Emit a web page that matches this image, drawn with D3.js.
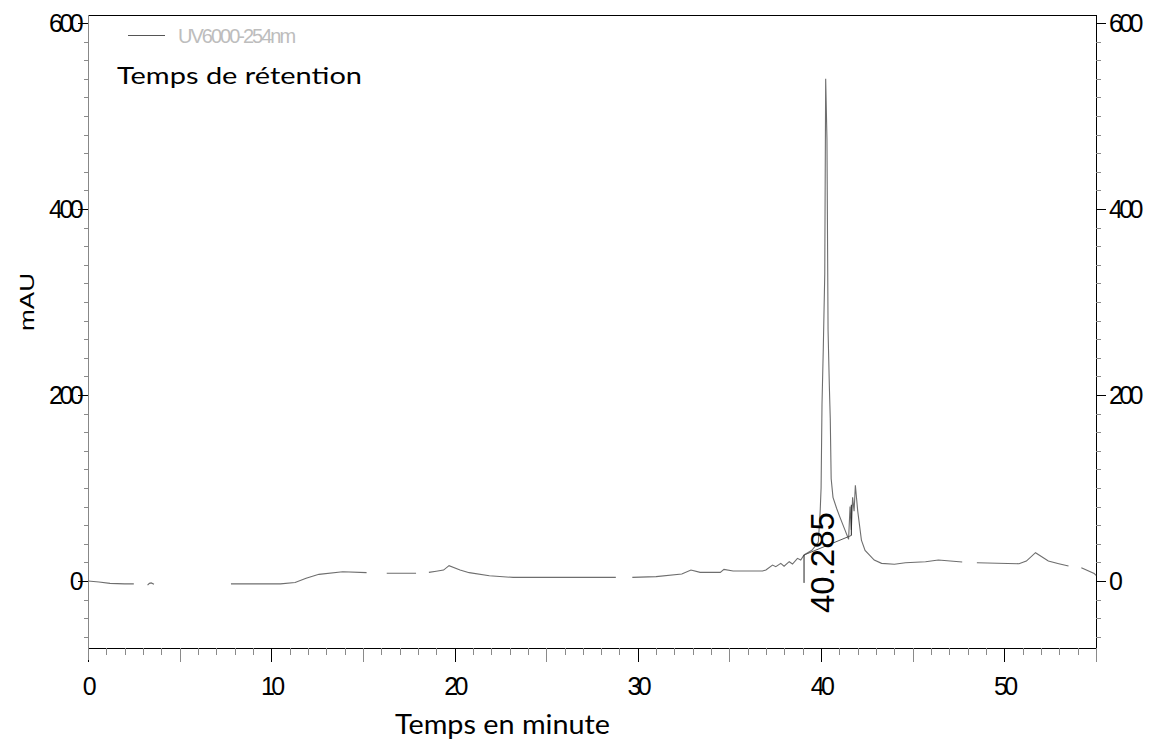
<!DOCTYPE html>
<html><head><meta charset="utf-8">
<script src="https://cdn.jsdelivr.net/npm/d3@7"></script>
<style>body{margin:0;background:#fff}svg{display:block}</style>
</head><body>
<svg id="chart" width="1149" height="740"></svg>
<script>
// ---- data ----
const timeMin = [0,0.6,1.2,2.0,2.5,null,3.25,3.35,3.45,3.6,null,7.8,9.0,10.5,11.3,11.9,12.6,13.9,15.2,null,16.3,17.9,null,
  18.6,19.0,19.4,19.7,20.3,20.8,21.9,23.2,26.0,28.8,null,29.7,31.0,32.4,32.9,33.4,34.5,34.7,35.2,36.8,
  36.99,37.35,37.53,37.8,37.98,38.26,38.44,38.71,38.89,39.07,39.5,39.85,39.95,40.0,40.05,40.12,40.2,40.25,
  40.32,40.38,40.45,40.5,40.55,40.65,40.85,41.0,41.3,41.5,41.58,41.65,41.72,41.8,41.87,42.0,42.2,42.4,
  42.9,43.3,44.0,44.6,45.7,46.4,47.7,null,48.5,50.8,51.2,51.7,52.4,52.97,53.5,null,54.2,54.9,55];
const mAU = [0,-1,-2.5,-3,-3,null,-4.5,-2.5,-2,-3.5,null,-3,-3,-3,-1.5,3,7.2,10,9,null,8.3,8.3,null,
  9.3,10.5,11.8,16.5,11.8,9,5.7,3.9,3.9,3.9,null,3.9,4.7,7.5,11.8,9.3,9.3,12.5,10.8,10.8,
  11.8,17.2,15.4,19,16,20.8,18.3,24.4,22.6,28,33,42,75,100,190,250,330,540,
  475,270,210,175,110,90,78,70,55,45,80,55,90,75,103,75,44,33,
  22.6,19,18,19.7,20.8,22.6,20.4,null,19.7,18.6,21.5,30.5,21.5,18.6,16.1,null,14.3,8.2,6];
const yTickLabels = [0,200,400,600];
const xTickLabels = [0,10,20,30,40,50];
const legendLabel = "UV6000-254nm";
const peakLabel = "40.285";
const peakStart = {t:39.07, v:28};
const peakEnd = {t:41.65, v:49};

// ---- scales ----
const svg = d3.select("#chart");
const x = d3.scaleLinear().domain([0,55]).range([88,1096]);
const y = d3.scaleLinear().domain([-72,608.6]).range([648,15]);
const numFont = "'Liberation Sans', Arial, sans-serif";

// frame (top + right + bottom black, left gray)
svg.append("line").attr("x1",88).attr("x2",1096).attr("y1",15.5).attr("y2",15.5).attr("stroke","#000");
svg.append("line").attr("x1",1096.5).attr("x2",1096.5).attr("y1",15).attr("y2",648).attr("stroke","#000");

// X axis
const xMinor = d3.range(0,56,1);
const gx = svg.append("g").attr("transform","translate(0,648)");
gx.append("line").attr("x1",88).attr("x2",1096).attr("y1",0.5).attr("y2",0.5).attr("stroke","#000");
gx.selectAll("line.t").data(xMinor).join("line").attr("class","t")
  .attr("x1",d=>Math.round(x(d))+0.5).attr("x2",d=>Math.round(x(d))+0.5)
  .attr("y1",0).attr("y2",d=> d%5===0 ? 14 : 7)
  .attr("stroke",d=> d%10===0 ? "#000" : "#8a8a8a");
gx.selectAll("text").data(xTickLabels).join("text")
  .attr("x",d=>x(d)).attr("y",47).attr("text-anchor","middle")
  .attr("font-family",numFont).attr("font-size",25).attr("letter-spacing",-3.6)
  .attr("fill","#000").text(d=>d);

// Y axes
const yMinor = d3.range(-60,601,20);
const gl = svg.append("g");
gl.append("line").attr("x1",88.5).attr("x2",88.5).attr("y1",15).attr("y2",660).attr("stroke","#888");
gl.selectAll("line.t").data(yMinor).join("line").attr("class","t")
  .attr("x1",d=> d%200===0 ? 78 : 84).attr("x2",88)
  .attr("y1",d=>Math.round(y(d))+0.5).attr("y2",d=>Math.round(y(d))+0.5)
  .attr("stroke",d=> d%200===0 ? "#000" : "#8a8a8a");
gl.selectAll("text").data(yTickLabels).join("text")
  .attr("x",80).attr("y",d=>y(d)).attr("dy","0.35em").attr("text-anchor","end")
  .attr("font-family",numFont).attr("font-size",25).attr("letter-spacing",-3.6)
  .attr("fill","#000").text(d=>d);

const gr = svg.append("g");
gr.selectAll("line.t").data(yMinor).join("line").attr("class","t")
  .attr("x1",1096).attr("x2",d=> d%200===0 ? 1106 : 1101)
  .attr("y1",d=>Math.round(y(d))+0.5).attr("y2",d=>Math.round(y(d))+0.5)
  .attr("stroke",d=> d%200===0 ? "#000" : "#8a8a8a");
gr.selectAll("text").data(yTickLabels).join("text")
  .attr("x",1109).attr("y",d=>y(d)).attr("dy","0.35em").attr("text-anchor","start")
  .attr("font-family",numFont).attr("font-size",25).attr("letter-spacing",-3.6)
  .attr("fill","#000").text(d=>d);

// trace
const pts = timeMin.map((t,i)=>({t, v:mAU[i]}));
const line = d3.line().defined(d=>d.t!==null && d.v!==null).x(d=>x(d.t)).y(d=>y(d.v));
svg.append("path").datum(pts).attr("d",line).attr("fill","none")
  .attr("stroke","#6e6e6e").attr("stroke-width",1.1);

// integration baseline and markers
svg.append("line").attr("x1",x(peakStart.t)).attr("y1",y(peakStart.v))
  .attr("x2",x(peakEnd.t)).attr("y2",y(peakEnd.v)).attr("stroke","#555").attr("stroke-width",1);
svg.append("line").attr("x1",x(peakStart.t)).attr("x2",x(peakStart.t))
  .attr("y1",y(peakStart.v)).attr("y2",y(-2)).attr("stroke","#222");
svg.append("line").attr("x1",x(peakEnd.t)).attr("x2",x(peakEnd.t))
  .attr("y1",y(peakEnd.v)).attr("y2",y(82)).attr("stroke","#222");

// peak label
svg.append("text").attr("transform",`translate(${x(40.285)+8},613) rotate(-90)`)
  .attr("font-family",numFont).attr("font-size",33).attr("fill","#000").text(peakLabel);

// legend
svg.append("line").attr("x1",128).attr("x2",165).attr("y1",35.5).attr("y2",35.5).attr("stroke","#555");
svg.append("text").attr("x",178).attr("y",36).attr("dy","0.35em")
  .attr("font-family",numFont).attr("font-size",20).attr("letter-spacing",-2)
  .attr("fill","#bdbdbd").text(legendLabel);

// annotations / axis titles
svg.append("text").attr("x",117).attr("y",84).attr("font-family","Lato, 'Open Sans', sans-serif")
  .attr("font-size",24).attr("textLength",245).attr("lengthAdjust","spacingAndGlyphs")
  .attr("fill","#000").text("Temps de rétention");
svg.append("text").attr("x",395).attr("y",734).attr("font-family","Lato, 'Open Sans', sans-serif")
  .attr("font-size",26).attr("textLength",215).attr("lengthAdjust","spacingAndGlyphs")
  .attr("fill","#000").text("Temps en minute");
svg.append("text").attr("transform","translate(34,331) rotate(-90)")
  .attr("font-family",numFont).attr("font-size",21).attr("textLength",58).attr("lengthAdjust","spacingAndGlyphs")
  .attr("fill","#000").text("mAU");
</script>
</body></html>
